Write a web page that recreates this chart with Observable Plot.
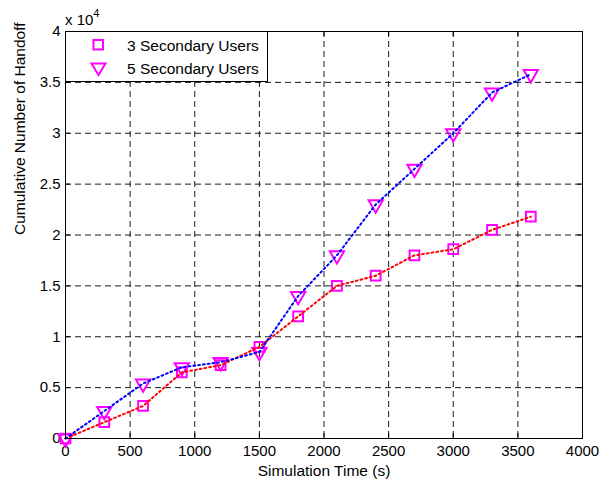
<!DOCTYPE html>
<html>
<head>
<meta charset="utf-8">
<script src="https://cdn.jsdelivr.net/npm/d3@7"></script>
<script src="https://cdn.jsdelivr.net/npm/@observablehq/plot@0.6"></script>
<style>
  html, body { margin: 0; padding: 0; background: #fff; }
  #wrap { position: relative; width: 608px; height: 483px; font-family: "Liberation Sans", Arial, sans-serif; }
  #exp { position: absolute; left: 65px; top: 9px; font-size: 15px; color: #000; }
  #exp sup { font-size: 11px; position: relative; top: -2px; }
  #legend { position: absolute; left: 0; top: 0; pointer-events: none; }
</style>
</head>
<body>
<div id="wrap"></div>
<script>
// Data (y values in units of 10^4)
const simTime = [0, 300, 600, 900, 1200, 1500, 1800, 2100, 2400, 2700, 3000, 3300, 3600];
const su3 = [0, 0.16, 0.32, 0.65, 0.72, 0.90, 1.20, 1.50, 1.60, 1.80, 1.86, 2.05, 2.18];
const su5 = [0, 0.27, 0.54, 0.70, 0.75, 0.85, 1.40, 1.80, 2.30, 2.65, 3.00, 3.40, 3.58];
const xTicks = [0, 500, 1000, 1500, 2000, 2500, 3000, 3500, 4000];
const yTicks = [0, 0.5, 1, 1.5, 2, 2.5, 3, 3.5, 4];
const seriesNames = ["3 Secondary Users", "5 Secondary Users"];
const xLabel = "Simulation Time (s)";
const yLabel = "Cumulative Number of Handoff";

const d3su = simTime.map((t, i) => ({t, v: su3[i]}));
const d5su = simTime.map((t, i) => ({t, v: su5[i]}));

const W = 608, H = 483, mL = 65, mR = 26, mT = 31, mB = 45;
const fw = W - mL - mR, fh = H - mT - mB;
const tickLen = 5;
const innerX = xTicks.slice(1, -1), innerY = yTicks.slice(1, -1);
const gridStyle = {stroke: "#000", strokeOpacity: 0.9, strokeWidth: 1, strokeDasharray: "6,4"};

const chart = Plot.plot({
  width: W, height: H,
  marginLeft: mL, marginRight: mR, marginTop: mT, marginBottom: mB,
  style: {fontFamily: "Liberation Sans, Arial, sans-serif", fontSize: "15px", color: "#000", background: "#fff"},
  x: {domain: [0, 4000]},
  y: {domain: [0, 4]},
  marks: [
    Plot.ruleX(innerX, {...gridStyle}),
    Plot.ruleY(innerY, {...gridStyle}),
    // inward ticks on all four sides
    Plot.ruleX(xTicks, {stroke: "#000", insetTop: fh - tickLen}),
    Plot.ruleX(xTicks, {stroke: "#000", insetBottom: fh - tickLen}),
    Plot.ruleY(yTicks, {stroke: "#000", insetRight: fw - tickLen}),
    Plot.ruleY(yTicks, {stroke: "#000", insetLeft: fw - tickLen}),
    Plot.axisX({ticks: xTicks, tickSize: 0, tickPadding: 7, tickFormat: d => String(d), label: null, fontSize: 15}),
    Plot.axisY({ticks: yTicks, tickSize: 0, tickPadding: 5, tickFormat: d => String(d), label: null, fontSize: 15}),
    Plot.dot(d3su, {x: "t", y: "v", symbol: "square", r: 5.5, stroke: "#FF00FF", strokeWidth: 2, fill: "none"}),
    Plot.dot(d5su, {x: "t", y: "v", symbol: "triangle", rotate: 180, r: 5.3, stroke: "#FF00FF", strokeWidth: 2, fill: "none"}),
    Plot.line(d3su, {x: "t", y: "v", stroke: "#FF0000", strokeWidth: 2, strokeDasharray: "1.8,3"}),
    Plot.line(d5su, {x: "t", y: "v", stroke: "#0000FF", strokeWidth: 2, strokeDasharray: "1.8,3"}),
    Plot.frame({stroke: "#000", strokeWidth: 1}),
    Plot.text([xLabel], {frameAnchor: "bottom", dy: 33, text: d => d, fontSize: 15.5, lineAnchor: "middle"}),
    Plot.text([yLabel], {frameAnchor: "left", dx: -45, rotate: -90, text: d => d, fontSize: 15.5, lineAnchor: "middle"})
  ]
});

const wrap = document.getElementById("wrap");
wrap.appendChild(chart);

const exp = document.createElement("div");
exp.id = "exp";
exp.innerHTML = "x 10<sup>4</sup>";
wrap.appendChild(exp);

// Legend (inside the axes, top-left)
const ns = "http://www.w3.org/2000/svg";
const lg = document.createElementNS(ns, "svg");
lg.setAttribute("id", "legend");
lg.setAttribute("width", W);
lg.setAttribute("height", H);
const lx = mL, ly = mT, lw = 202, lh = 50;
lg.innerHTML = `
  <rect x="${lx + 0.5}" y="${ly + 0.5}" width="${lw}" height="${lh}" fill="#fff" stroke="#000" stroke-width="1"/>
  <rect x="${lx + 28.5}" y="${ly + 9}" width="9.5" height="9.5" fill="none" stroke="#FF00FF" stroke-width="2"/>
  <path d="M${lx + 26.5},${ly + 32.5} L${lx + 40.5},${ly + 32.5} L${lx + 33.5},${ly + 44} Z" fill="none" stroke="#FF00FF" stroke-width="2"/>
  <text x="${lx + 62}" y="${ly + 14}" dominant-baseline="central" font-family="Liberation Sans, Arial, sans-serif" font-size="15.5" fill="#000">${seriesNames[0]}</text>
  <text x="${lx + 62}" y="${ly + 37}" dominant-baseline="central" font-family="Liberation Sans, Arial, sans-serif" font-size="15.5" fill="#000">${seriesNames[1]}</text>
`;
wrap.appendChild(lg);
</script>
</body>
</html>
